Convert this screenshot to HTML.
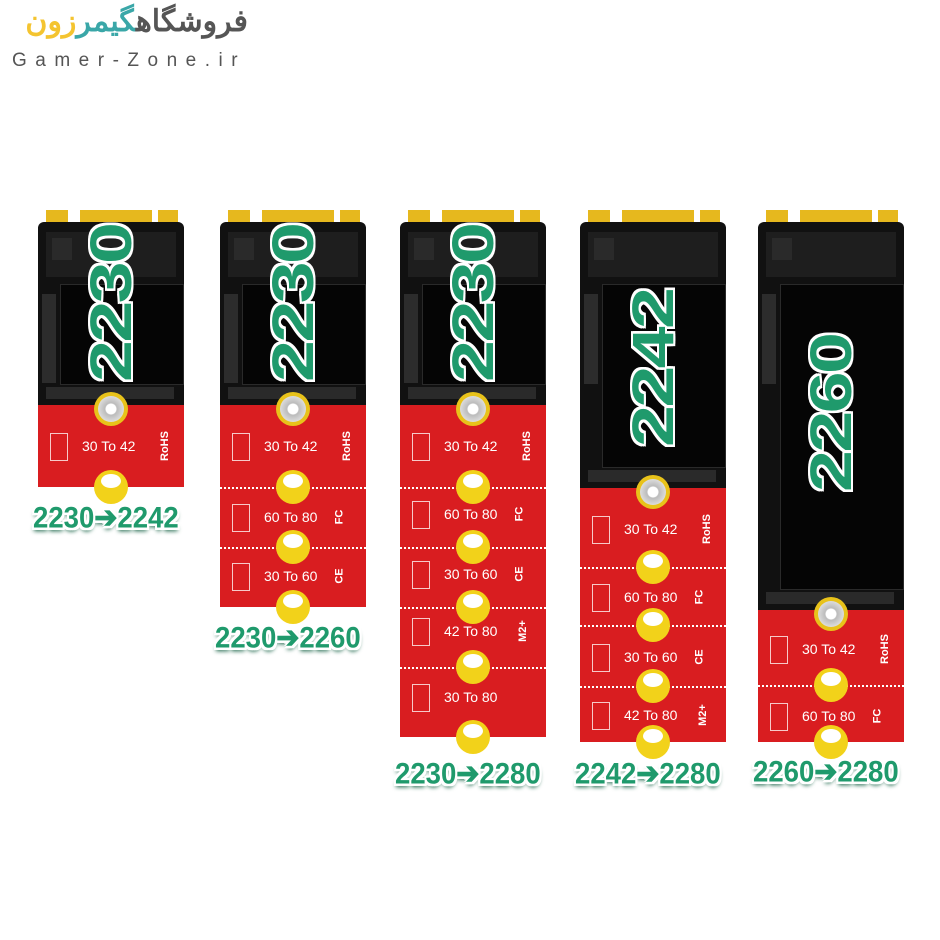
<!DOCTYPE html>
<html><head><meta charset="utf-8">
<style>
body{margin:0;width:940px;height:940px;background:#fff;position:relative;overflow:hidden;font-family:"Liberation Sans",sans-serif}
.a{position:absolute}
.card{position:absolute;width:146px}
.gold{position:absolute;top:0;height:16px;background:#e6b81e}
.board{position:absolute;left:0;width:146px;background:#111;border-radius:6px 6px 0 0}
.chip{position:absolute;background:#050505;border:1px solid #2a2a2a}
.comp{position:absolute;background:#3a3a3a}
.red{position:absolute;left:0;width:146px;background:#d91d20}
.hole{position:absolute;width:34px;height:34px;border-radius:50%;background:#f2d21a;margin-left:-17px;margin-top:-17px}
.hole:after{content:"";position:absolute;left:7px;top:4px;width:20px;height:14px;border-radius:50%;background:#fff}
.screw{position:absolute;width:34px;height:34px;border-radius:50%;background:#e8c21a;margin-left:-17px;margin-top:-17px}
.screw:after{content:"";position:absolute;left:4px;top:4px;width:26px;height:26px;border-radius:50%;background:radial-gradient(circle,#fff 0 5px,#bbb 6px,#ddd 13px)}
.lab{position:absolute;color:#fff;font-size:14px;white-space:nowrap}
.ico{position:absolute;width:16px;height:26px;border:1px solid #f7c9c9}
.side{position:absolute;color:#fff;font-weight:bold;font-size:11px;transform:rotate(-90deg);white-space:nowrap}
.big{position:absolute;color:#1f9a6c;font-weight:bold;font-size:58px;line-height:60px;white-space:nowrap;transform-origin:0 0;transform:rotate(-90deg) scaleX(1.3);
 text-shadow:-2px 0 #fff,2px 0 #fff,0 -2px #fff,0 2px #fff,-2px -2px #fff,2px 2px #fff,-2px 2px #fff,2px -2px #fff;letter-spacing:-2px}
.tag{position:absolute;color:#1f9a6c;font-weight:bold;font-size:26px;line-height:30px;white-space:nowrap;transform-origin:0 0;transform:scale(1.06,1.15);
 text-shadow:-2px 0 #fff,2px 0 #fff,0 -2px #fff,0 2px #fff,-2px -2px #fff,2px 2px #fff,-2px 2px #fff,2px -2px #fff,0 3px 4px #0b5a3c}
.sep{position:absolute;left:0;width:146px;height:2px;border-top:2px dotted #fff}
</style></head><body>
<div class="a" style="left:8px;top:4px;width:240px;font-size:30px;font-weight:bold;font-family:'Liberation Sans','Noto Sans CJK SC',sans-serif;direction:rtl;text-align:right;color:#555;white-space:nowrap"><span style="color:#555">فروشگاه</span><span style="color:#3aa7a8">گیمر</span><span style="color:#f4c430">زون</span></div>
<div class="a" style="left:12px;top:50px;font-size:19px;color:#555;letter-spacing:8.5px">Gamer-Zone.ir</div>
<div id="c"></div>
<script>
var cards=[
 {x:38,red:405,end:487,segs:[[447,"30 To 42","RoHS"]],tag:"2230➔2242",ty:500,big:"2230",by:382},
 {x:220,red:405,end:607,segs:[[447,"30 To 42","RoHS"],[518,"60 To 80","FC"],[577,"30 To 60","CE"]],tag:"2230➔2260",ty:620,big:"2230",by:382},
 {x:400,red:405,end:737,segs:[[447,"30 To 42","RoHS"],[515,"60 To 80","FC"],[575,"30 To 60","CE"],[632,"42 To 80","M2+"],[698,"30 To 80",""]],tag:"2230➔2280",ty:756,big:"2230",by:382},
 {x:580,red:488,end:742,segs:[[530,"30 To 42","RoHS"],[598,"60 To 80","FC"],[658,"30 To 60","CE"],[716,"42 To 80","M2+"]],tag:"2242➔2280",ty:756,big:"2242",by:447},
 {x:758,red:610,end:742,segs:[[650,"30 To 42","RoHS"],[717,"60 To 80","FC"]],tag:"2260➔2280",ty:754,big:"2260",by:492}
];
var bounds=[[487],[487,547,607],[487,547,607,667,737],[567,625,686,742],[685,742]];
var h="";
cards.forEach(function(c,i){
 h+='<div class="card" style="left:'+c.x+'px;top:210px;height:'+(c.end-210)+'px">';
 h+='<div class="gold" style="left:8px;width:22px"></div><div class="gold" style="left:42px;width:72px"></div><div class="gold" style="left:120px;width:20px"></div>';
 h+='<div class="board" style="top:12px;height:'+(c.red-222+4)+'px"></div>';
 h+='<div class="comp" style="left:8px;top:22px;width:130px;height:45px;background:#1e1e1e"></div>';
 h+='<div class="comp" style="left:14px;top:28px;width:20px;height:22px;background:#2a2a2a"></div>';
 var ct=74, ch=(c.red-210)-74-22;
 h+='<div class="chip" style="left:22px;top:'+ct+'px;width:122px;height:'+ch+'px"></div>';
 h+='<div class="comp" style="left:4px;top:'+(ct+10)+'px;width:14px;height:'+Math.min(ch-10,90)+'px;background:#2c2c2c"></div>';
 h+='<div class="comp" style="left:8px;top:'+(c.red-210-18)+'px;width:128px;height:12px;background:#2a2a2a"></div>';
 var r=c.red-210;
 h+='<div class="red" style="top:'+r+'px;height:'+(c.end-c.red)+'px"></div>';
 bounds[i].forEach(function(b,k){ if(k<bounds[i].length-1) h+='<div class="sep" style="top:'+(b-210)+'px"></div>'; h+='<div class="hole" style="left:73px;top:'+(b-210)+'px"></div>';});
 h+='<div class="screw" style="left:73px;top:'+(r+4)+'px"></div>';
 c.segs.forEach(function(s){
  var y=s[0]-210;
  h+='<div class="ico" style="left:12px;top:'+(y-14)+'px"></div>';
  h+='<div class="lab" style="left:44px;top:'+(y-9)+'px">'+s[1]+'</div>';
  if(s[2]) h+='<div class="side" style="left:112px;top:'+(y-7)+'px">'+s[2]+'</div>';
 });
 h+='</div>';
 h+='<div class="big" style="left:'+(c.x+44)+'px;top:'+c.by+'px">'+c.big+'</div>';
 h+='<div class="tag" style="left:'+(c.x-5)+'px;top:'+c.ty+'px">'+c.tag+'</div>';
});
document.getElementById("c").innerHTML=h;
</script>
</body></html>
